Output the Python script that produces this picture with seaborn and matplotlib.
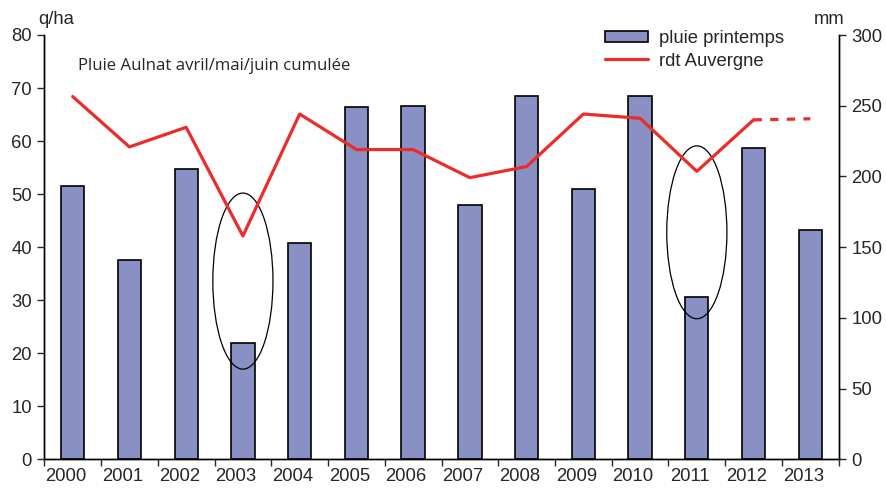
import matplotlib.pyplot as plt
import matplotlib.transforms as mtransforms
from matplotlib.patches import Ellipse, Patch
from matplotlib.lines import Line2D
import seaborn as sns
import numpy as np
import pandas as pd

# Data
years = ['2000', '2001', '2002', '2003', '2004', '2005', '2006',
         '2007', '2008', '2009', '2010', '2011', '2012', '2013']
rain_mm = [193, 141, 205, 82, 153, 249, 250, 180, 257, 191, 257, 115, 220, 162]
yield_qha = [68.4, 58.9, 62.6, 42.1, 65.1, 58.4, 58.4, 53.1, 55.2, 65.1, 64.3, 54.3, 64.0, 64.2]
n_final = 13   # last confirmed yield (2012); 2013 is an estimate (dashed)

# ellipses marking dry springs: (year index, centre q/ha, height q/ha)
dry_years = [(3, 33.6, 33.2), (11, 42.8, 32.6)]

sns.set_style("ticks")
plt.rcParams['font.family'] = ['Liberation Sans', 'DejaVu Sans']

bar_color = '#8890c4'
line_color = '#ec2b2b'

fig = plt.figure(figsize=(8.87, 4.88), dpi=100)
ax = fig.add_axes([44.3 / 887, 1 - 459.3 / 488, (838.7 - 44.3) / 887, (459.3 - 35) / 488])
ax2 = ax.twinx()

df = pd.DataFrame({'year': years, 'rain': rain_mm, 'yield': yield_qha, 'pos': np.arange(len(years))})

# bars on the right (mm) axis
sns.barplot(data=df, x='year', y='rain', ax=ax2, color=bar_color, width=0.41,
            edgecolor='black', linewidth=1.2, saturation=1)

# line on the left (q/ha) axis, drawn above the bars
ax.set_zorder(ax2.get_zorder() + 1)
ax.patch.set_visible(False)
sns.lineplot(data=df.iloc[:n_final], x='pos', y='yield', ax=ax, color=line_color, linewidth=2.3)
sns.lineplot(data=df.iloc[n_final - 1:], x='pos', y='yield', ax=ax, color=line_color,
             linewidth=2.3, dashes=False, linestyle=(0, (2.6, 2.6)))

for xi, yc, h in dry_years:
    ax.add_patch(Ellipse((xi, yc), 1.06, h, fill=False, edgecolor='black', linewidth=0.9))

ax.set_xlim(-0.5, len(years) - 0.5)
ax2.set_xlim(-0.5, len(years) - 0.5)
ax.set_ylim(0, 80)
ax2.set_ylim(0, 300)
ax.set_yticks(range(0, 81, 10))
ax2.set_yticks(range(0, 301, 50))
ax.set_xticks(np.arange(len(years)))
ax.set_xticklabels(years)
ax.set_xticks(np.arange(-0.5, len(years)), minor=True)
ax.set_xlabel('')
ax.set_ylabel('')
ax2.set_xlabel('')
ax2.set_ylabel('')
ax2.tick_params(axis='x', which='both', bottom=False, labelbottom=False)

ax.tick_params(axis='x', which='major', length=0, labelsize=13.3, pad=6)
ax.tick_params(axis='x', which='minor', length=5, width=1, direction='out')
ax.tick_params(axis='y', length=5, width=1, direction='out', labelsize=13.3, pad=4)
ax2.tick_params(axis='y', length=5, width=1, direction='out', labelsize=13.3, pad=4)

offset = mtransforms.ScaledTranslation(-7 / 100, 0, fig.dpi_scale_trans)
for lab in ax.get_xticklabels():
    lab.set_transform(lab.get_transform() + offset)

for a in (ax, ax2):
    a.spines['top'].set_visible(False)
    for s in ('left', 'right', 'bottom'):
        a.spines[s].set_linewidth(1)
        a.spines[s].set_color('black')

fig.text(38 / 887, 1 - 20 / 488, 'q/ha', fontsize=13.3, va='center', ha='left')
fig.text(845 / 887, 1 - 20 / 488, 'mm', fontsize=13.3, va='center', ha='right')
fig.text(78 / 887, 1 - 66 / 488, 'Pluie Aulnat avril/mai/juin cumulée', fontsize=12.1,
         va='center', ha='left', family=['Open Sans', 'DejaVu Sans'])

handles = [Patch(facecolor=bar_color, edgecolor='black', linewidth=1.2),
           Line2D([0], [0], color=line_color, linewidth=2.3)]
ax.legend(handles, ['pluie printemps', 'rdt Auvergne'], loc='upper left',
          bbox_to_anchor=(605 / 887, 1 - 30 / 488), bbox_transform=fig.transFigure,
          frameon=False, fontsize=13.3, handlelength=2.35, handleheight=0.55,
          handletextpad=0.55, labelspacing=0.3, borderpad=0, borderaxespad=0)

fig.savefig('out.png', dpi=100)
